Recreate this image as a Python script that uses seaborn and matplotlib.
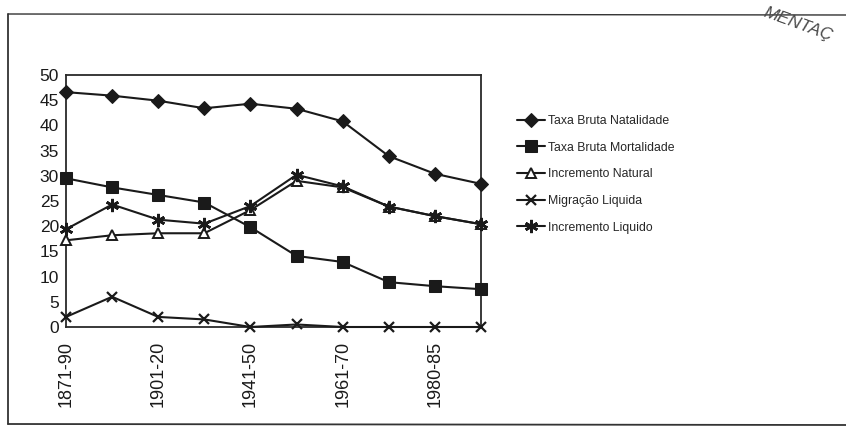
import matplotlib
matplotlib.use("Agg")
import matplotlib.pyplot as plt
from matplotlib.lines import Line2D
import pandas as pd
import seaborn as sns

# Periods (one point per period); only every other label is printed on the axis
periods = ["1871-90", "1891-1900", "1901-20", "1921-40", "1941-50",
           "1951-60", "1961-70", "1971-80", "1980-85", "1986-90"]
shown_labels = ["1871-90", "1901-20", "1941-50", "1961-70", "1980-85"]

# Rates per 1000 inhabitants
natalidade = [46.6, 45.9, 44.9, 43.4, 44.3, 43.3, 40.8, 33.9, 30.4, 28.4]
mortalidade = [29.5, 27.7, 26.2, 24.7, 19.8, 14.1, 12.9, 8.9, 8.1, 7.5]
incr_natural = [17.2, 18.2, 18.6, 18.6, 23.2, 29.0, 27.7, 23.9, 22.0, 20.4]
migracao = [2.0, 6.0, 2.0, 1.5, 0.0, 0.5, 0.0, 0.0, 0.0, 0.0]
incr_liquido = [19.4, 24.3, 21.3, 20.5, 24.0, 30.2, 27.9, 23.9, 22.0, 20.4]

series_names = ["Taxa Bruta Natalidade", "Taxa Bruta Mortalidade",
                "Incremento Natural", "Migração Liquida", "Incremento Liquido"]
series_values = [natalidade, mortalidade, incr_natural, migracao, incr_liquido]

frames = []
for name, vals in zip(series_names, series_values):
    frames.append(pd.DataFrame({"periodo": periods, "taxa": vals, "serie": name}))
df = pd.concat(frames, ignore_index=True)

sns.set_style("white")
plt.rcParams["font.family"] = ["Liberation Sans Narrow", "Liberation Sans", "DejaVu Sans"]

fig = plt.figure(figsize=(8.46, 4.29), dpi=100)
ax = fig.add_axes([66 / 846, 1 - 327 / 429, (481 - 66) / 846, (327 - 75) / 429])

marker_styles = {
    "Taxa Bruta Natalidade": dict(marker="D", markersize=7, markerfacecolor="#1a1a1a"),
    "Taxa Bruta Mortalidade": dict(marker="s", markersize=8.5, markerfacecolor="#1a1a1a"),
    "Incremento Natural": dict(marker="^", markersize=7, markerfacecolor="white",
                               markeredgewidth=1.4),
    "Migração Liquida": dict(marker="x", markersize=7.5, markeredgewidth=1.6),
    "Incremento Liquido": dict(marker=(6, 2, 0), markersize=9.5, markeredgewidth=1.9),
}

for name in series_names:
    sub = df[df["serie"] == name]
    sns.lineplot(data=sub, x="periodo", y="taxa", ax=ax, sort=False,
                 color="#1a1a1a", linewidth=1.5, markeredgecolor="#1a1a1a",
                 label=name, clip_on=False, zorder=3, **marker_styles[name])

tick_font = ["Liberation Sans", "DejaVu Sans"]
ax.set_xlim(0, len(periods) - 1)
ax.set_ylim(0, 50)
ax.set_yticks(range(0, 51, 5))
ax.set_yticklabels([str(v) for v in range(0, 51, 5)], fontsize=12.5, family=tick_font)
tick_pos = [periods.index(lbl) for lbl in shown_labels]
ax.set_xticks(tick_pos)
ax.set_xticklabels(shown_labels, rotation=90, fontsize=13, family=tick_font)
ax.set_xlabel("")
ax.set_ylabel("")
ax.tick_params(axis="y", length=0, pad=5, colors="#1a1a1a")
ax.tick_params(axis="x", length=0, pad=10, colors="#1a1a1a")
for side in ["left", "right", "top", "bottom"]:
    ax.spines[side].set_visible(True)
    ax.spines[side].set_color("#2a2a2a")
    ax.spines[side].set_linewidth(1.3)

handles, labels = ax.get_legend_handles_labels()
ax.get_legend().remove()
fig.legend(handles, labels, loc="upper left", bbox_to_anchor=(0.605, 1 - 110 / 429),
           frameon=False, fontsize=8.8, handlelength=2.3, handletextpad=0.3,
           labelspacing=1.2, borderaxespad=0)

# Outer frame of the panel
fig.add_artist(Line2D([8 / 846, 8 / 846], [1 - 14 / 429, 1 - 424 / 429],
                      transform=fig.transFigure, color="#333333", lw=1.3))
fig.add_artist(Line2D([8 / 846, 1.0], [1 - 424 / 429, 1 - 425 / 429],
                      transform=fig.transFigure, color="#333333", lw=1.3))
fig.add_artist(Line2D([8 / 846, 1.0], [1 - 14 / 429, 1 - 15 / 429],
                      transform=fig.transFigure, color="#333333", lw=1.0))

# Stamp lettering at the top right corner
fig.text(798 / 846, 1 - 24 / 429, "MENTAÇ", rotation=-20, fontsize=12.5, color="#4a4a4a",
         ha="center", va="center", style="italic", family=tick_font)

fig.savefig("out.png", dpi=100, facecolor="white")
